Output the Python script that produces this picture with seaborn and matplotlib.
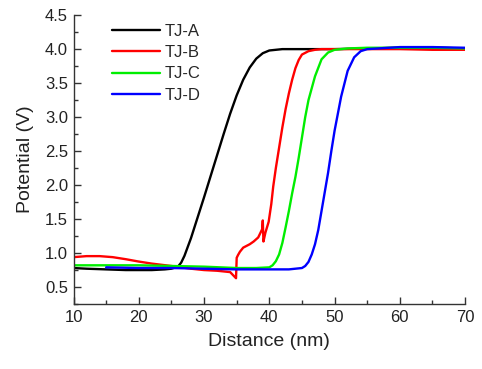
import numpy as np
import pandas as pd
import matplotlib
matplotlib.use("Agg")
import matplotlib.pyplot as plt
from matplotlib.ticker import MultipleLocator
import seaborn as sns

# ---- data ----
a_x = [10, 12, 15, 18, 20, 22, 24, 25, 26, 26.5, 27, 28, 29, 30, 31, 32, 33, 34, 35, 36, 37, 38, 39, 40, 42, 45, 50, 55, 60, 65, 70]
a_v = [0.78, 0.77, 0.76, 0.75, 0.75, 0.75, 0.76, 0.77, 0.80, 0.86, 0.96, 1.22, 1.52, 1.82, 2.13, 2.44, 2.75, 3.05, 3.32, 3.55, 3.73, 3.86, 3.94, 3.98, 4.0, 4.0, 4.0, 4.01, 4.02, 4.02, 4.01]

b_x = [10, 12, 14, 16, 18, 20, 22, 25, 28, 30, 32, 34, 34.9, 35.0, 35.2, 35.5, 36, 37, 37.6, 38.3, 38.9, 39.0, 39.1, 39.4, 39.9, 40.3, 40.6, 41, 41.5, 42, 42.5, 43, 43.5, 44, 44.5, 45, 46, 47, 48, 50, 55, 60, 65, 70]
b_v = [0.94, 0.955, 0.955, 0.94, 0.91, 0.875, 0.845, 0.81, 0.77, 0.75, 0.74, 0.72, 0.63, 0.93, 0.97, 1.02, 1.08, 1.13, 1.17, 1.23, 1.35, 1.48, 1.17, 1.30, 1.46, 1.72, 1.98, 2.25, 2.55, 2.85, 3.12, 3.35, 3.55, 3.72, 3.84, 3.92, 3.97, 3.99, 4.0, 4.0, 4.0, 4.0, 3.99, 3.99]

c_x = [10, 15, 20, 25, 30, 35, 38, 40, 40.5, 41, 41.5, 42, 42.5, 43, 43.5, 44, 44.5, 45, 45.5, 46, 47, 48, 49, 50, 52, 55, 60, 65, 70]
c_v = [0.82, 0.82, 0.82, 0.81, 0.80, 0.78, 0.78, 0.79, 0.82, 0.88, 0.98, 1.15, 1.38, 1.62, 1.88, 2.12, 2.40, 2.70, 3.00, 3.25, 3.60, 3.85, 3.95, 3.99, 4.01, 4.02, 4.02, 4.02, 4.01]

d_x = [15, 20, 25, 30, 35, 40, 43, 45, 45.5, 46, 46.5, 47, 47.5, 48, 48.5, 49, 49.5, 50, 50.5, 51, 52, 53, 54, 55, 60, 65, 70]
d_v = [0.79, 0.78, 0.78, 0.77, 0.76, 0.76, 0.76, 0.78, 0.81, 0.87, 0.98, 1.13, 1.34, 1.62, 1.90, 2.18, 2.50, 2.80, 3.05, 3.30, 3.68, 3.88, 3.97, 4.00, 4.03, 4.03, 4.02]

series = ["TJ-A", "TJ-B", "TJ-C", "TJ-D"]
colors = ["#000000", "#ff0000", "#00ee00", "#0000ff"]

frames = []
for name, xs, vs in zip(series, [a_x, b_x, c_x, d_x], [a_v, b_v, c_v, d_v]):
    frames.append(pd.DataFrame({"Distance": xs, "Potential": vs, "Sample": name}))
df = pd.concat(frames, ignore_index=True)

sns.set_style("ticks")
plt.rcParams["font.family"] = ["Liberation Sans", "DejaVu Sans"]

fig = plt.figure(figsize=(4.82, 3.69), dpi=100)
ax = fig.add_axes([0.1525, 0.176, 0.8125, 0.783])

sns.lineplot(data=df, x="Distance", y="Potential", hue="Sample", hue_order=series,
             palette=colors, sort=False, estimator=None, units="Sample",
             linewidth=1.7, ax=ax, legend=True)

ax.set_xlim(10, 70)
ax.set_ylim(0.25, 4.5)
ax.xaxis.set_major_locator(MultipleLocator(10))
ax.xaxis.set_minor_locator(MultipleLocator(5))
ax.yaxis.set_major_locator(MultipleLocator(0.5))
ax.yaxis.set_minor_locator(MultipleLocator(0.25))
ax.yaxis.set_major_formatter(matplotlib.ticker.FormatStrFormatter("%.1f"))
ax.tick_params(which="major", direction="in", length=5, width=1, labelsize=12,
               colors="#333333", labelcolor="#222222", pad=4)
ax.tick_params(which="minor", direction="in", length=3, width=1, colors="#333333")
for s in ["top", "right"]:
    ax.spines[s].set_visible(False)
for s in ["left", "bottom"]:
    ax.spines[s].set_color("#333333")
    ax.spines[s].set_linewidth(1)

ax.set_xlabel("Distance (nm)", fontsize=14, color="#222222", labelpad=6)
ax.set_ylabel("Potential (V)", fontsize=14, color="#222222", labelpad=8)

leg = ax.legend(loc="upper left", bbox_to_anchor=(0.08, 0.993), frameon=False,
                fontsize=12, handlelength=2.9, handletextpad=0.3, labelspacing=0.38,
                borderaxespad=0.0)
for line in leg.get_lines():
    line.set_linewidth(1.7)

fig.savefig("out.png", dpi=100)
